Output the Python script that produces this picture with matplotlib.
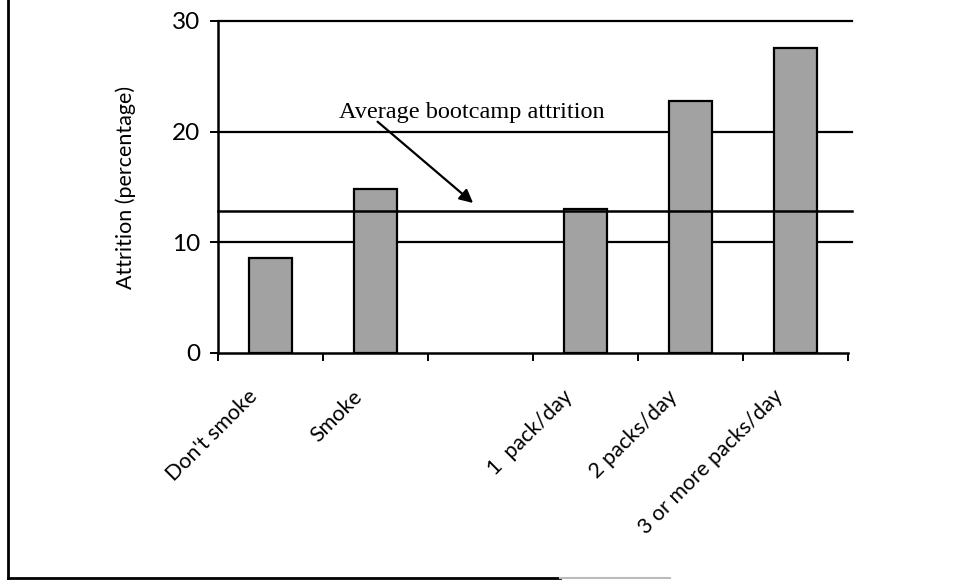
import matplotlib
matplotlib.use("Agg")
import matplotlib.pyplot as plt
from matplotlib.lines import Line2D
from matplotlib.transforms import ScaledTranslation
import numpy as np

categories = ["Don't smoke", "Smoke", "", "1  pack/day", "2 packs/day", "3 or more packs/day"]
values = [8.6, 14.8, np.nan, 13.0, 22.8, 27.6]
average_attrition = 12.8
y_ticks = [0, 10, 20, 30]
annotation_text = "Average bootcamp attrition"

sans = ["Lato", "DejaVu Sans"]
serif = ["Liberation Serif", "DejaVu Serif"]

fig = plt.figure(figsize=(9.73, 5.82), dpi=100)
ax = fig.add_axes([0.224, 0.3935, 0.6475, 0.5705])

x = np.arange(len(categories))
ax.set_xlim(-0.5, len(categories) - 0.5)
ax.set_ylim(0, 30)

# gridlines (behind bars)
for yv in y_ticks[1:]:
    ax.axhline(yv, xmin=0, xmax=1.006, color="black", lw=1.6, zorder=1, clip_on=False)

mask = ~np.isnan(values)
ax.bar(x[mask], np.array(values)[mask], width=0.41, color="#a2a2a2",
       edgecolor="black", linewidth=1.6, zorder=2)

# average line over bars
ax.axhline(average_attrition, xmin=0, xmax=1.006, color="black", lw=1.8, zorder=3, clip_on=False)

ax.text(1.92, 21.2, annotation_text, ha="center", va="baseline",
        fontsize=17.5, family=serif, zorder=4)
ax.annotate("", xy=(1.93, 13.55), xytext=(1.02, 20.9),
            arrowprops=dict(arrowstyle="-|>", color="black", lw=1.6,
                            mutation_scale=20, shrinkA=0, shrinkB=0),
            zorder=4)

for s in ["top", "right"]:
    ax.spines[s].set_visible(False)
for s in ["left", "bottom"]:
    ax.spines[s].set_linewidth(1.8)

ax.set_yticks(y_ticks)
ax.set_yticklabels([str(v) for v in y_ticks], fontsize=17.5, family=sans)
ax.tick_params(axis="y", direction="out", length=6, width=1.4, pad=7)

ax.set_xticks(np.arange(-0.5, len(categories)), minor=False)
ax.set_xticklabels([])
ax.tick_params(axis="x", which="major", direction="out", length=6, width=1.4)
ax.set_xticks(x, minor=True)
ax.set_xticklabels(categories, minor=True, rotation=45, ha="right",
                   rotation_mode="anchor", fontsize=15.5, family=sans)
ax.tick_params(axis="x", which="minor", length=0, pad=24)
shift = ScaledTranslation(-0.23, 0, fig.dpi_scale_trans)
for lab in ax.get_xticklabels(minor=True):
    lab.set_transform(lab.get_transform() + shift)

ax.set_ylabel("Attrition (percentage)", fontsize=15.5, family=sans, labelpad=26)

# figure frame (left and bottom edges)
fig.add_artist(Line2D([8 / 973, 8 / 973], [1.0, 1 - 578 / 582],
                      transform=fig.transFigure, color="black", lw=2))
fig.add_artist(Line2D([8 / 973, 560 / 973], [1 - 578 / 582, 1 - 578 / 582],
                      transform=fig.transFigure, color="black", lw=2))
fig.add_artist(Line2D([560 / 973, 670 / 973], [1 - 578 / 582, 1 - 578 / 582],
                      transform=fig.transFigure, color="#bbbbbb", lw=1.5))

fig.savefig("out.png", dpi=100)
